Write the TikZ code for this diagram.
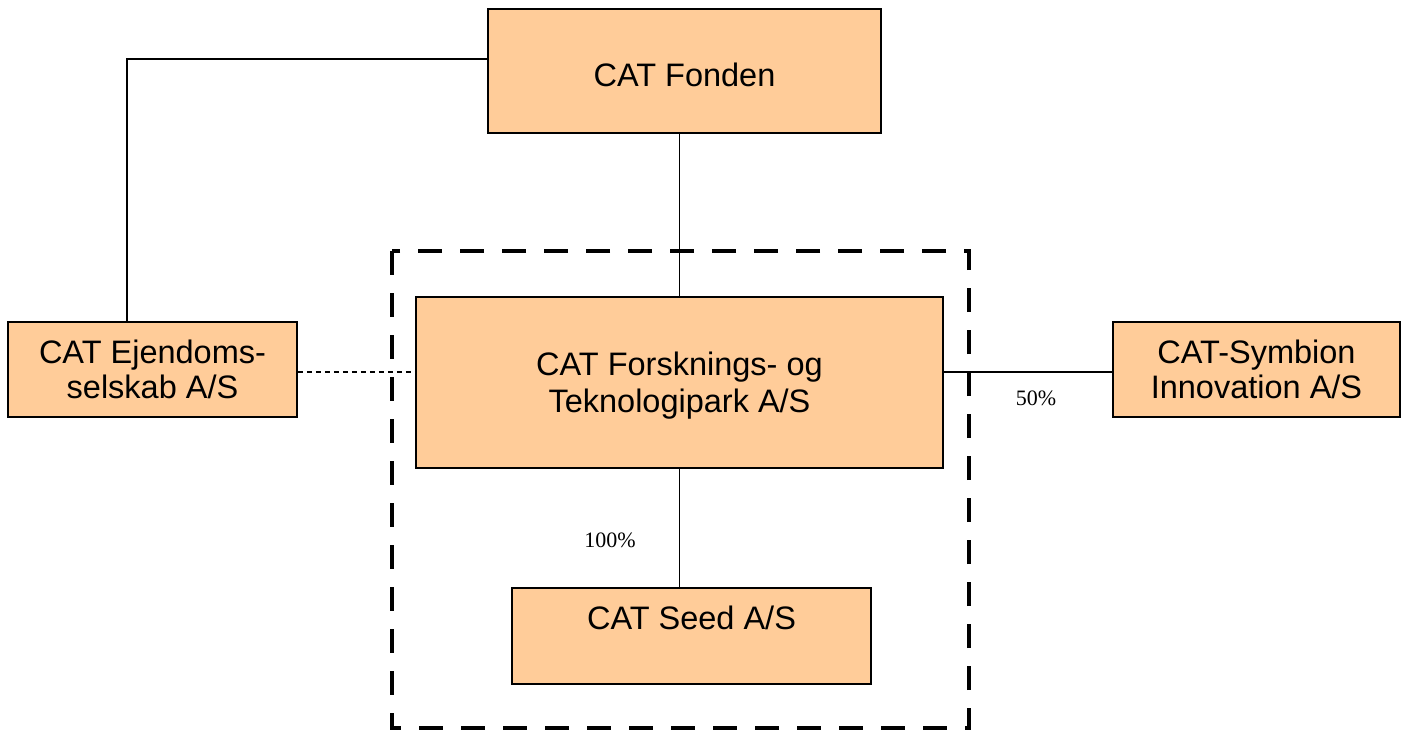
\documentclass[tikz,border=0pt]{standalone}
\usepackage{fontspec}
\setmainfont{Liberation Sans}
\newfontfamily\serifpct{Liberation Serif}
\definecolor{peach}{HTML}{FFCC99}
\newcommand{\lowr}[2]{\raisebox{-#1}[\height][\depth]{#2}}
\begin{document}
\begin{tikzpicture}[x=1pt,y=-1pt,
  box/.style={draw=black,line width=1.8pt,fill=peach,inner sep=0pt,align=center,
    font=\fontsize{32.5}{35}\selectfont},
  conn/.style={line width=1.8pt},
  pct/.style={font=\serifpct\fontsize{22}{26}\selectfont,inner sep=0pt}]
\useasboundingbox (0,0) rectangle (1409,732);
\draw[line width=4.5pt,dash pattern=on 24pt off 18pt] (392,251) rectangle (969,728);
\node[box,minimum width=393pt,minimum height=124pt] (fonden) at (684.5,71) {\lowr{4pt}{CAT Fonden}};
\node[box,minimum width=289pt,minimum height=95pt] (ejend) at (152.5,369.5) {CAT Ejendoms-\\selskab A/S};
\node[box,minimum width=527pt,minimum height=171pt,font=\fontsize{32.5}{37}\selectfont] (forsk) at (679.5,382.5) {\lowr{3.5pt}{CAT Forsknings- og}\\\lowr{3.5pt}{Teknologipark A/S}};
\node[box,minimum width=287pt,minimum height=95pt] (symb) at (1256.5,369.5) {CAT-Symbion\\Innovation A/S};
\node[box,minimum width=359pt,minimum height=96pt] (seed) at (691.5,636) {};
\node[font=\fontsize{32.5}{35}\selectfont,inner sep=0pt] (seedtxt) at (691.5,618) {CAT Seed A/S};
\coordinate (corner) at (127,59);
\draw[conn] (fonden.west |- corner) -- (corner) -- (corner |- ejend.north);
\draw[conn] (forsk.north) -- (forsk.north |- fonden.south);
\draw[conn] (forsk.south) -- (forsk.south |- seed.north);
\draw[line width=1.5pt,dash pattern=on 5pt off 4pt] ([yshift=-2.5pt]ejend.east) -- ([yshift=-2.5pt]ejend.east -| forsk.west);
\draw[conn] ([yshift=-2.5pt]symb.west -| forsk.east) -- ([yshift=-2.5pt]symb.west);
\node[pct] (p50) at (1036,398) {50\%};
\node[pct] (p100) at (610,540) {100\%};
\end{tikzpicture}
\end{document}
